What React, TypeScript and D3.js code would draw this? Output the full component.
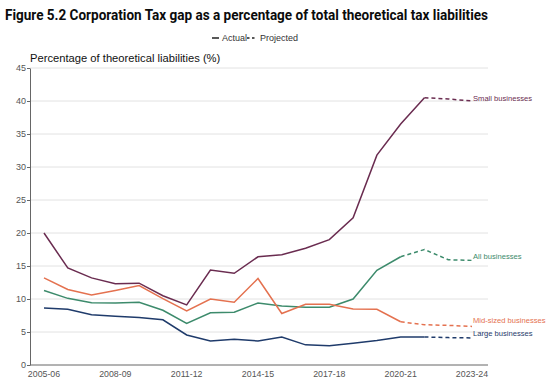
import { useEffect, useRef } from 'react';
import * as d3 from 'd3';

const years = [
  '2005-06', '2006-07', '2007-08', '2008-09', '2009-10', '2010-11', '2011-12',
  '2012-13', '2013-14', '2014-15', '2015-16', '2016-17', '2017-18', '2018-19',
  '2019-20', '2020-21', '2021-22', '2022-23', '2023-24',
];
const tickYears = ['2005-06', '2008-09', '2011-12', '2014-15', '2017-18', '2020-21', '2023-24'];

// actual values run from 2005-06; projected values start where actual ends
const smallActual = [20, 14.7, 13.2, 12.3, 12.4, 10.5, 9.1, 14.4, 13.9, 16.4, 16.7, 17.7, 19.0, 22.3, 31.8, 36.5, 40.5];
const smallProjected = [40.5, 40.3, 40.0];
const allActual = [11.3, 10.1, 9.45, 9.4, 9.5, 8.3, 6.3, 7.9, 8.0, 9.4, 8.95, 8.75, 8.75, 10.0, 14.35, 16.4];
const allProjected = [16.4, 17.5, 15.95, 15.85];
const midActual = [13.2, 11.45, 10.6, 11.3, 12.05, 10.05, 8.2, 10.0, 9.5, 13.1, 7.8, 9.2, 9.2, 8.5, 8.45, 6.55];
const midProjected = [6.55, 6.1, 6.0, 5.85];
const largeActual = [8.65, 8.45, 7.6, 7.4, 7.2, 6.85, 4.55, 3.65, 3.9, 3.65, 4.25, 3.05, 2.9, 3.3, 3.7, 4.25, 4.25];
const largeProjected = [4.25, 4.15, 4.1];

const series = [
  { name: 'Small businesses', actual: smallActual, projected: smallProjected, color: '#6a2c50', labelValue: 40.4 },
  { name: 'All businesses', actual: allActual, projected: allProjected, color: '#3d8b6c', labelValue: 16.5 },
  { name: 'Mid-sized businesses', actual: midActual, projected: midProjected, color: '#e4714f', labelValue: 6.8 },
  { name: 'Large businesses', actual: largeActual, projected: largeProjected, color: '#1f3b6b', labelValue: 4.85 },
];

export default function App() {
  const svgRef = useRef<SVGSVGElement>(null);

  useEffect(() => {
    if (!svgRef.current) return;
    const svg = d3.select(svgRef.current);
    svg.selectAll('*').remove();

    const font = 'Liberation Sans, Arial, sans-serif';
    const x = d3.scaleLinear().domain([0, years.length - 1]).range([44, 472]);
    const y = d3.scaleLinear().domain([0, 45]).range([365, 68]);
    const axisLeftX = 30;
    const axisRightX = 488;

    // Title
    svg
      .append('text')
      .attr('x', 5)
      .attr('y', 20)
      .attr('font-family', 'Roboto, Liberation Sans, sans-serif')
      .attr('font-weight', 'bold')
      .attr('font-size', 15)
      .attr('textLength', 483)
      .attr('lengthAdjust', 'spacingAndGlyphs')
      .attr('fill', '#0b0c0c')
      .text('Figure 5.2 Corporation Tax gap as a percentage of total theoretical tax liabilities');

    // Legend
    const legend = svg.append('g').attr('font-family', font).attr('font-size', 9).attr('fill', '#333');
    legend.append('line').attr('x1', 212).attr('x2', 219).attr('y1', 38).attr('y2', 38)
      .attr('stroke', '#222').attr('stroke-width', 1.5);
    legend.append('text').attr('x', 222).attr('y', 41).text('Actual');
    legend.append('line').attr('x1', 247).attr('x2', 257).attr('y1', 38).attr('y2', 38)
      .attr('stroke', '#222').attr('stroke-width', 1.5).attr('stroke-dasharray', '2.5,2.5');
    legend.append('text').attr('x', 260).attr('y', 41).text('Projected');

    // Y axis title
    svg
      .append('text')
      .attr('x', 30)
      .attr('y', 62)
      .attr('font-family', font)
      .attr('font-size', 11.2)
      .attr('fill', '#111')
      .text('Percentage of theoretical liabilities (%)');

    // Grid lines
    svg
      .append('g')
      .selectAll('line')
      .data(d3.range(5, 50, 5))
      .enter()
      .append('line')
      .attr('x1', axisLeftX)
      .attr('x2', axisRightX)
      .attr('y1', (d) => y(d))
      .attr('y2', (d) => y(d))
      .attr('stroke', '#e2e2e2')
      .attr('stroke-width', 1);

    // Y axis
    const yAxis = svg
      .append('g')
      .attr('transform', `translate(${axisLeftX},0)`)
      .call(d3.axisLeft(y).tickValues(d3.range(0, 50, 5)).tickSize(3).tickPadding(1).tickSizeOuter(0));
    yAxis.select('.domain').attr('stroke', '#666');
    yAxis.selectAll('line').attr('stroke', '#666');
    yAxis.selectAll('text').attr('font-family', font).attr('font-size', 9).attr('fill', '#555');

    // X axis
    const xAxis = svg.append('g').attr('transform', `translate(0,${y(0)})`);
    xAxis.append('line').attr('x1', axisLeftX).attr('x2', axisRightX).attr('stroke', '#666');
    xAxis
      .selectAll('text')
      .data(tickYears)
      .enter()
      .append('text')
      .attr('x', (d) => x(years.indexOf(d)))
      .attr('y', 12)
      .attr('text-anchor', 'middle')
      .attr('font-family', font)
      .attr('font-size', 8.8)
      .attr('fill', '#555')
      .text((d) => d);

    const line = d3
      .line<number>()
      .x((_, i) => x(i))
      .y((d) => y(d));

    series.forEach((s) => {
      const start = s.actual.length - 1;
      svg.append('path')
        .datum(s.actual)
        .attr('d', line)
        .attr('fill', 'none')
        .attr('stroke', s.color)
        .attr('stroke-width', 1.5);

      const projLine = d3
        .line<number>()
        .x((_, i) => x(start + i))
        .y((d) => y(d));
      svg.append('path')
        .datum(s.projected)
        .attr('d', projLine)
        .attr('fill', 'none')
        .attr('stroke', s.color)
        .attr('stroke-width', 1.5)
        .attr('stroke-dasharray', '4,3');

      svg.append('text')
        .attr('x', 473)
        .attr('y', y(s.labelValue) + 3)
        .attr('font-family', font)
        .attr('font-size', 7.6)
        .attr('fill', s.color)
        .text(s.name);
    });
  }, []);

  return (
    <svg
      ref={svgRef}
      width={550}
      height={389}
      style={{ position: 'absolute', left: 0, top: 0, background: '#fff' }}
    ></svg>
  );
}
